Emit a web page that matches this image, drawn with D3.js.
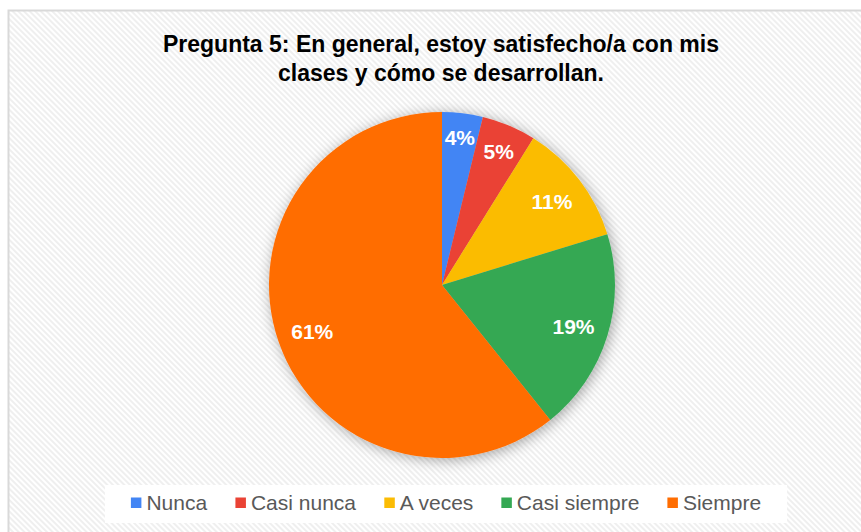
<!DOCTYPE html>
<html>
<head>
<meta charset="utf-8">
<script src="https://cdn.jsdelivr.net/npm/d3@7"></script>
<style>
  html, body { margin: 0; padding: 0; background: #fff; }
  svg { display: block; }
</style>
</head>
<body>
<svg id="chart" width="861" height="532"></svg>
<script>
// ---- data ----
const titleLines = ["Pregunta 5: En general, estoy satisfecho/a con mis", "clases y cómo se desarrollan."];
const categories = ["Nunca", "Casi nunca", "A veces", "Casi siempre", "Siempre"];
const counts = [3, 4, 9, 15, 48];
const colors = ["#4285F4", "#EA4335", "#FBBC04", "#34A853", "#FF6D01"];

// ---- layout ----
const W = 861, H = 532;
const cx = 442, cy = 285, R = 173;
const svg = d3.select("#chart");
const defs = svg.append("defs");

const pat = defs.append("pattern").attr("id", "hatch")
  .attr("patternUnits", "userSpaceOnUse").attr("width", 4).attr("height", 4)
  .attr("patternTransform", "rotate(-45)");
pat.append("rect").attr("width", 4).attr("height", 4).attr("fill", "#ffffff");
pat.append("rect").attr("width", 2).attr("height", 4).attr("fill", "#efefef");

const f = defs.append("filter").attr("id", "shadow")
  .attr("x", "-20%").attr("y", "-20%").attr("width", "140%").attr("height", "140%");
f.append("feDropShadow").attr("dx", 2).attr("dy", 2).attr("stdDeviation", 7)
  .attr("flood-color", "#000").attr("flood-opacity", 0.35);

// chart frame
svg.append("rect").attr("x", 8.5).attr("y", 10.5).attr("width", W + 20).attr("height", H + 20)
  .attr("fill", "url(#hatch)").attr("stroke", "#d9d9d9").attr("stroke-width", 2);

// title
svg.append("text").attr("x", 441).attr("y", 52)
  .attr("text-anchor", "middle")
  .attr("font-family", "'Liberation Sans', Arial, sans-serif")
  .attr("font-weight", "bold").attr("font-size", 23).attr("fill", "#000")
  .selectAll("tspan").data(titleLines).join("tspan")
  .attr("x", 441).attr("dy", (d, i) => i === 0 ? 0 : 29).text(d => d);

// pie
const total = d3.sum(counts);
const pie = d3.pie().sort(null).value(d => d)(counts);
const arc = d3.arc().innerRadius(0).outerRadius(R);
const g = svg.append("g").attr("transform", `translate(${cx},${cy})`);
g.append("g").attr("filter", "url(#shadow)")
  .selectAll("path").data(pie).join("path")
  .attr("d", arc).attr("fill", (d, i) => colors[i]);

// labels (inside end)
const labels = g.selectAll("text.lbl").data(pie).join("text").attr("class", "lbl")
  .attr("font-family", "'Liberation Sans', Arial, sans-serif")
  .attr("font-weight", "bold").attr("font-size", 21).attr("fill", "#fff")
  .attr("text-anchor", "middle").attr("dominant-baseline", "central")
  .text(d => Math.round(d.value / total * 100) + "%");
labels.each(function(d) {
  const w = this.getComputedTextLength(), h = 16;
  const a = (d.startAngle + d.endAngle) / 2;
  const s = Math.abs(Math.sin(a)), c = Math.abs(Math.cos(a));
  const Rin = R - 13;
  const b = w * s + h * c;
  const cc = (w * w + h * h) / 4 - Rin * Rin;
  const rho = (-b + Math.sqrt(b * b - 4 * cc)) / 2;
  d3.select(this).attr("x", rho * Math.sin(a)).attr("y", -rho * Math.cos(a) + 1);
});

// legend
const lg = svg.append("g");
const lbox = lg.append("rect").attr("fill", "#fff");
const items = lg.selectAll("g").data(categories).join("g");
items.append("rect").attr("width", 10.5).attr("height", 10.5).attr("y", -5.5)
  .attr("fill", (d, i) => colors[i]);
items.append("text").attr("x", 15.5).attr("dy", "0.35em")
  .attr("font-family", "'Liberation Sans', Arial, sans-serif")
  .attr("font-size", 21).attr("fill", "#595959").text(d => d);
const widths = [];
items.each(function() { widths.push(this.getBBox().width); });
const gap = 28;
const totalW = d3.sum(widths) + gap * (widths.length - 1);
let x0 = 446 - totalW / 2;
const ly = 503;
items.attr("transform", (d, i) => {
  const x = x0 + d3.sum(widths.slice(0, i)) + gap * i;
  return `translate(${x},${ly})`;
});
lbox.attr("x", x0 - 26).attr("y", 485).attr("width", totalW + 52).attr("height", 38);
</script>
</body>
</html>
